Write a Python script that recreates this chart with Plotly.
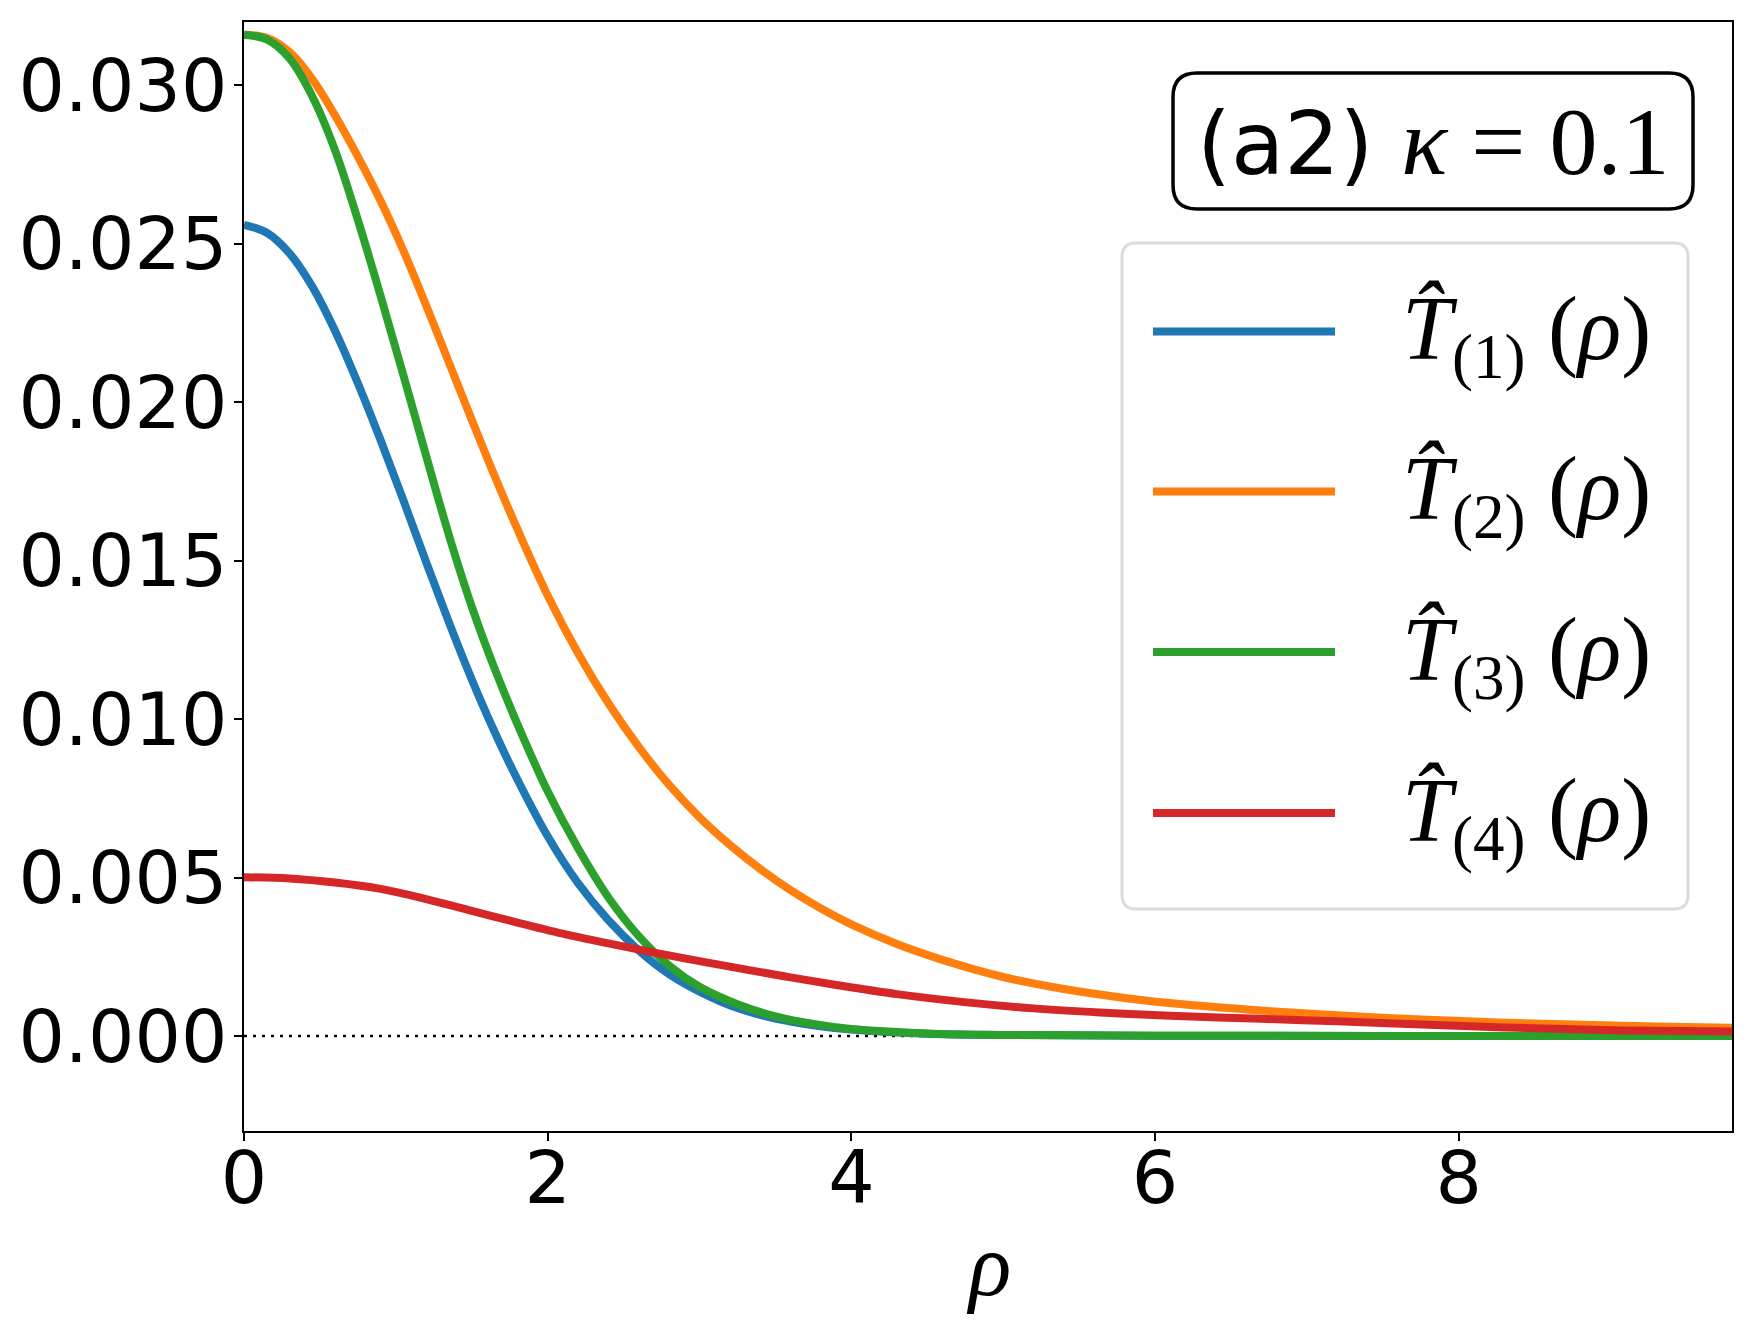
import plotly.graph_objects as go

# ---------------- data ----------------
rho_1 = [0.0, 0.15, 0.3, 0.45, 0.6, 0.75, 0.9, 1.05, 1.2, 1.35, 1.5, 1.65, 1.8,
         2.0, 2.2, 2.4, 2.6, 2.8, 3.0, 3.25, 3.5, 3.75, 4.0, 4.5, 5.0, 6.0,
         7.5, 9.8]
T_1 = [0.02560, 0.02535, 0.02470, 0.02365, 0.02225, 0.02060, 0.01880, 0.01690,
       0.01495, 0.01305, 0.01125, 0.00960, 0.00810, 0.00630, 0.00482, 0.00365,
       0.00270, 0.00195, 0.00140, 0.00088, 0.00055, 0.00034, 0.00020, 0.00007,
       0.00003, 0.00001, 0.0, 0.0]

rho_2 = [0.0, 0.15, 0.3, 0.45, 0.6, 0.75, 0.9, 1.05, 1.2, 1.35, 1.5, 1.65, 1.8,
         2.0, 2.2, 2.4, 2.6, 2.8, 3.0, 3.2, 3.4, 3.6, 3.8, 4.0, 4.3, 4.6, 5.0,
         5.4, 5.8, 6.2, 6.7, 7.2, 7.76, 8.3, 8.82, 9.3, 9.8]
T_2 = [0.03160, 0.03150, 0.03105, 0.03020, 0.02905, 0.02775, 0.02635, 0.02478,
       0.02305, 0.02125, 0.01945, 0.01768, 0.01600, 0.01390, 0.01208, 0.01050,
       0.00912, 0.00792, 0.00690, 0.00603, 0.00527, 0.00460, 0.00402, 0.00352,
       0.00290, 0.00240, 0.00186, 0.00148, 0.00120, 0.00099, 0.00080, 0.00065,
       0.00052, 0.00042, 0.00035, 0.00030, 0.00026]

rho_3 = [0.0, 0.15, 0.3, 0.45, 0.6, 0.75, 0.9, 1.05, 1.2, 1.35, 1.5, 1.65, 1.8,
         2.0, 2.2, 2.4, 2.6, 2.8, 3.0, 3.25, 3.5, 3.75, 4.0, 4.5, 5.0, 6.0,
         7.5, 9.8]
T_3 = [0.03160, 0.03145, 0.03085, 0.02965, 0.02795, 0.02575, 0.02335, 0.02085,
       0.01830, 0.01580, 0.01355, 0.01160, 0.00985, 0.00772, 0.00592, 0.00437,
       0.00315, 0.00222, 0.00155, 0.00100, 0.00062, 0.00038, 0.00022, 0.00008,
       0.00003, 0.00001, 0.0, 0.0]

rho_4 = [0.0, 0.3, 0.6, 0.9, 1.2, 1.5, 1.8, 2.1, 2.4, 2.7, 3.0, 3.3, 3.6, 3.9,
         4.3, 4.76, 5.2, 5.64, 6.1, 6.7, 7.2, 7.76, 8.3, 8.82, 9.3, 9.8]
T_4 = [0.00501, 0.00497, 0.00484, 0.00464, 0.00432, 0.00395, 0.00358, 0.00323,
       0.00292, 0.00263, 0.00236, 0.00210, 0.00185, 0.00161, 0.00132, 0.00106,
       0.00087, 0.00074, 0.00064, 0.00054, 0.00046, 0.00036, 0.00027, 0.00020,
       0.00016, 0.00014]

series_names = ["(1)", "(2)", "(3)", "(4)"]
series_colors = ["#1f77b4", "#ff7f0e", "#2ca02c", "#d62728"]
x_ticks = [0, 2, 4, 6, 8]
y_ticks = [0.000, 0.005, 0.010, 0.015, 0.020, 0.025, 0.030]
panel_label = "(a2)"
kappa_text = "<i>κ</i> = 0.1"

# ---------------- geometry ----------------
W, H = 1755, 1327
L, R, T, B = 244, 23, 22, 196
PW, PH = W - L - R, H - T - B


def px(x):
    return (x - L) / PW


def py(y):
    return (H - B - y) / PH


def rounded_rect(x0, y0, x1, y1, r):
    # pixel coords -> paper path with rounded corners
    rx, ry = r / PW, r / PH
    a0, a1 = px(x0), px(x1)
    b0, b1 = py(y1), py(y0)  # bottom, top in paper
    return (f"M{a0+rx:.5f},{b1:.5f} L{a1-rx:.5f},{b1:.5f} "
            f"Q{a1:.5f},{b1:.5f} {a1:.5f},{b1-ry:.5f} "
            f"L{a1:.5f},{b0+ry:.5f} Q{a1:.5f},{b0:.5f} {a1-rx:.5f},{b0:.5f} "
            f"L{a0+rx:.5f},{b0:.5f} Q{a0:.5f},{b0:.5f} {a0:.5f},{b0+ry:.5f} "
            f"L{a0:.5f},{b1-ry:.5f} Q{a0:.5f},{b1:.5f} {a0+rx:.5f},{b1:.5f} Z")


fig = go.Figure()

xs = [rho_1, rho_2, rho_3, rho_4]
ys = [T_1, T_2, T_3, T_4]
for xv, yv, nm, col in zip(xs, ys, series_names, series_colors):
    fig.add_trace(go.Scatter(
        x=xv, y=yv, mode="lines", name="T̂" + nm + "(ρ)",
        line=dict(color=col, width=8, shape="spline", smoothing=1.0),
        showlegend=False, hoverinfo="skip"))

shapes = []
annotations = []

# dotted zero line
shapes.append(dict(type="line", xref="paper", yref="y", x0=0, x1=1,
                   y0=0, y1=0, layer="below",
                   line=dict(color="black", width=2.5, dash="3px,6px")))

# title box
shapes.append(dict(type="path", xref="paper", yref="paper",
                   path=rounded_rect(1173, 73, 1693, 209, 24),
                   line=dict(color="black", width=3.5), fillcolor="white",
                   layer="above"))
annotations.append(dict(
    xref="paper", yref="paper", x=px(1433), y=py(141),
    xanchor="center", yanchor="middle", showarrow=False,
    text=panel_label + " <span style='font-family:\"Liberation Serif\";"
         "font-size:96px'>" + kappa_text + "</span>",
    font=dict(family="DejaVu Sans", size=87, color="black")))

# legend box
shapes.append(dict(type="path", xref="paper", yref="paper",
                   path=rounded_rect(1122, 243, 1688, 909, 14),
                   line=dict(color="#dcdcdc", width=3), fillcolor="white",
                   layer="above"))
leg_y = [331.5, 491.5, 652, 813]
for yy, nm, col in zip(leg_y, series_names, series_colors):
    shapes.append(dict(type="line", xref="paper", yref="paper",
                       x0=px(1153), x1=px(1335), y0=py(yy), y1=py(yy),
                       line=dict(color=col, width=8), layer="above"))
    annotations.append(dict(
        xref="paper", yref="paper", x=px(1400), y=py(yy + 4),
        xanchor="left", yanchor="middle", showarrow=False,
        text="<i>T̂</i><sub>" + nm + "</sub> (<i>ρ</i>)",
        font=dict(family="Liberation Serif", size=90, color="black")))

# x axis title
annotations.append(dict(
    xref="paper", yref="paper", x=0.5, y=py(1265),
    xanchor="center", yanchor="middle", showarrow=False,
    text="<i>ρ</i>",
    font=dict(family="Liberation Serif", size=88, color="black")))

fig.update_layout(
    width=W, height=H,
    margin=dict(l=L, r=R, t=T, b=B, autoexpand=False),
    paper_bgcolor="white", plot_bgcolor="white",
    shapes=shapes, annotations=annotations,
    showlegend=False,
    font=dict(family="DejaVu Sans", color="black"),
)

axis_common = dict(
    showgrid=False, zeroline=False, showline=True, linecolor="black",
    linewidth=2, mirror=True, ticks="outside", ticklen=8, tickwidth=2,
    tickcolor="black", tickfont=dict(family="DejaVu Sans", size=73,
                                     color="black"),
)
fig.update_xaxes(range=[0, 9.8], tickmode="array", tickvals=x_ticks,
                 ticktext=[str(v) for v in x_ticks], ticklabelstandoff=-26,
                 **axis_common)
fig.update_yaxes(range=[-0.003, 0.0320], tickmode="array", tickvals=y_ticks,
                 ticktext=[f"{v:.3f}" for v in y_ticks], ticklabelstandoff=-8,
                 **axis_common)

fig.write_html("out.html")
